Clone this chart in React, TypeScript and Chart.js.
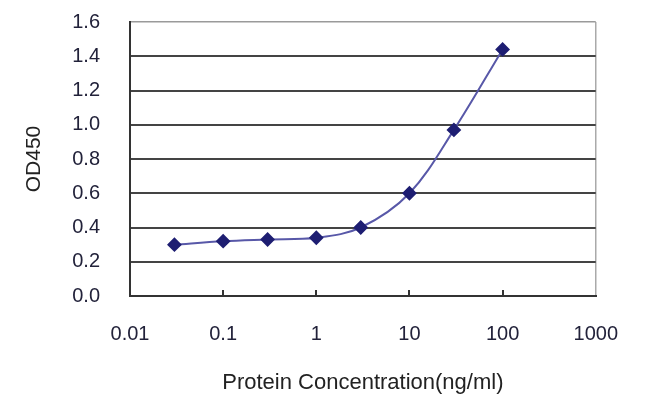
import React, { useEffect, useRef } from "react";
import { Chart, registerables } from "chart.js";

Chart.register(...registerables);

const concentrations = [0.03, 0.1, 0.3, 1, 3, 10, 30, 100];
const odValues = [0.3, 0.32, 0.33, 0.34, 0.4, 0.6, 0.97, 1.44];
const xTickValues = [0.01, 0.1, 1, 10, 100, 1000];
const xTickLabels = ["0.01", "0.1", "1", "10", "100", "1000"];
const yMin = 0;
const yMax = 1.6;
const yStep = 0.2;
const xTitle = "Protein Concentration(ng/ml)";
const yTitle = "OD450";

const FONT = "'Liberation Sans', Arial, sans-serif";

export default function App() {
  const ref = useRef<HTMLCanvasElement | null>(null);

  useEffect(() => {
    if (!ref.current) return;
    const chart = new Chart(ref.current, {
      type: "line",
      data: {
        datasets: [
          {
            data: concentrations.map((x, i) => ({ x, y: odValues[i] })),
            borderColor: "#5858a8",
            borderWidth: 2,
            backgroundColor: "#1e1e72",
            pointBackgroundColor: "#1e1e72",
            pointBorderColor: "#1e1e72",
            pointStyle: "rectRot",
            pointRadius: 6,
            tension: 0.35,
            fill: false,
          },
        ],
      },
      options: {
        animation: false,
        responsive: false,
        devicePixelRatio: 1,
        layout: { padding: { top: 22, right: 52, left: 0, bottom: 0 } },
        plugins: { legend: { display: false }, tooltip: { enabled: false } },
        scales: {
          x: {
            type: "logarithmic",
            min: 0.01,
            max: 1000,
            afterBuildTicks: (scale: any) => {
              scale.ticks = xTickValues.map((v) => ({ value: v }));
            },
            afterFit: (scale: any) => {
              scale.height = 122;
            },
            border: { display: true, color: "#333333", width: 2 },
            grid: {
              drawOnChartArea: true,
              drawTicks: true,
              tickLength: -6,
              color: (ctx: any) =>
                ctx.tick && ctx.tick.value === 1000 ? "#aaaaaa" : "rgba(0,0,0,0)",
              tickColor: (ctx: any) =>
                ctx.tick && (ctx.tick.value === 0.01 || ctx.tick.value === 1000)
                  ? "rgba(0,0,0,0)"
                  : "#333333",
              lineWidth: (ctx: any) => (ctx.tick && ctx.tick.value === 1000 ? 1.5 : 2),
              tickWidth: 2,
            },
            ticks: {
              autoSkip: false,
              maxRotation: 0,
              padding: 32,
              color: "#22223a",
              font: { family: FONT, size: 20 },
              callback: (value: any) => {
                const idx = xTickValues.indexOf(Number(value));
                return idx >= 0 ? xTickLabels[idx] : "";
              },
            },
            title: {
              display: true,
              text: xTitle,
              color: "#222222",
              font: { family: FONT, size: 22 },
              padding: { top: 0, bottom: 22 },
            },
          },
          y: {
            type: "linear",
            min: yMin,
            max: yMax,
            afterFit: (scale: any) => {
              scale.width = 130;
            },
            border: { display: true, color: "#333333", width: 2 },
            grid: {
              drawTicks: true,
              tickLength: 30,
              tickColor: "rgba(0,0,0,0)",
              color: (ctx: any) =>
                ctx.tick && Math.abs(ctx.tick.value - yMax) < 1e-6 ? "#9a9a9a" : "#444444",
              lineWidth: (ctx: any) =>
                ctx.tick && Math.abs(ctx.tick.value - yMax) < 1e-6 ? 1.5 : 2,
            },
            ticks: {
              stepSize: yStep,
              padding: 0,
              color: "#22223a",
              font: { family: FONT, size: 20 },
              callback: (value: any) => Number(value).toFixed(1),
            },
            title: {
              display: true,
              text: yTitle,
              color: "#222222",
              font: { family: FONT, size: 21 },
              padding: { top: 22, bottom: 0 },
            },
          },
        },
      },
    });
    return () => chart.destroy();
  }, []);

  return (
    <div style={{ position: "absolute", left: 0, top: 0, width: 650, height: 418, background: "#ffffff" }}>
      <canvas ref={ref} width={650} height={418} style={{ width: 650, height: 418, display: "block" }} />
    </div>
  );
}
